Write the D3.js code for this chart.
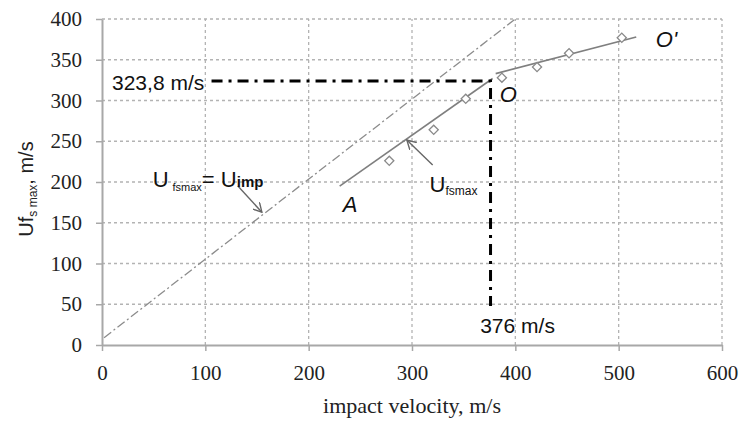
<!DOCTYPE html>
<html><head><meta charset="utf-8">
<script src="https://cdn.jsdelivr.net/npm/d3@7/dist/d3.min.js"></script>
<style>
html,body{margin:0;padding:0;background:#fff;}
svg{display:block;}
</style></head>
<body>
<svg id="chart" width="740" height="421"></svg>
<script>
// ---- data ----
const xTicks = [0, 100, 200, 300, 400, 500, 600];
const yTicks = [0, 50, 100, 150, 200, 250, 300, 350, 400];
const pointsX = [278, 321, 352, 387, 421, 452, 503];
const pointsY = [226, 264, 302, 328, 341, 358, 377];
const fitAX = [230, 378];
const fitAY = [195, 327];
const fitOX = [381, 517];
const fitOY = [333, 378];
const equalityX = [2, 400];
const equalityY = [9, 400];
const critX = 376;
const critY = 323.8;
const critHStart = 106;
const critVEnd = 48;
const xTitle = "impact velocity, m/s";

// ---- layout ----
const W = 740, H = 421;
const m = {left: 102, top: 19, right: 18, bottom: 76};
const svg = d3.select("#chart");
const x = d3.scaleLinear().domain([0, 600]).range([m.left, W - m.right]);
const y = d3.scaleLinear().domain([0, 400]).range([H - m.bottom, m.top]);

// gridlines
const grid = svg.append("g");
grid.selectAll(".gx").data(xTicks.slice(1)).join("line")
  .attr("x1", d => x(d)).attr("x2", d => x(d))
  .attr("y1", y(0)).attr("y2", y(400))
  .attr("stroke", "#b3b3b3").attr("stroke-width", 1.3).attr("stroke-dasharray", "3,3");
grid.selectAll(".gy").data(yTicks.slice(1)).join("line")
  .attr("x1", x(0)).attr("x2", x(600))
  .attr("y1", d => y(d)).attr("y2", d => y(d))
  .attr("stroke", "#b3b3b3").attr("stroke-width", 1.3).attr("stroke-dasharray", "3,3");

// axes
const xAxis = d3.axisBottom(x).tickValues(xTicks).tickSize(6).tickPadding(14).tickSizeOuter(0);
const yAxis = d3.axisLeft(y).tickValues(yTicks).tickSize(6).tickPadding(14).tickSizeOuter(0);
const gx = svg.append("g").attr("transform", `translate(0,${y(0)})`).call(xAxis);
const gy = svg.append("g").attr("transform", `translate(${x(0)},0)`).call(yAxis);
[gx, gy].forEach(g => {
  g.select(".domain").attr("stroke", "#a8a8a8").attr("stroke-width", 2);
  g.selectAll(".tick line").attr("stroke", "#a8a8a8").attr("stroke-width", 1.5);
  g.selectAll("text").attr("font-family", "'Liberation Serif', 'Times New Roman', serif")
    .attr("font-size", 21).attr("fill", "#222");
});

// axis titles
svg.append("text").attr("x", x(300)).attr("y", 413).attr("text-anchor", "middle")
  .attr("font-family", "'Liberation Serif', 'Times New Roman', serif").attr("font-size", 21)
  .attr("fill", "#222").attr("textLength", 178).attr("lengthAdjust", "spacingAndGlyphs")
  .text(xTitle);

const yt = svg.append("text").attr("transform", "translate(33,189) rotate(-90)")
  .attr("text-anchor", "middle").attr("font-family", "'Liberation Sans', Arial, sans-serif")
  .attr("fill", "#222").attr("font-size", 20);
yt.append("tspan").text("Uf");
yt.append("tspan").attr("font-size", 12).attr("dy", 4).text("s max");
yt.append("tspan").attr("dy", -4).text(", m/s");

const line = d3.line().x(d => x(d[0])).y(d => y(d[1]));

// equality line
svg.append("path").datum(d3.zip(equalityX, equalityY)).attr("d", line)
  .attr("fill", "none").attr("stroke", "#8c8c8c").attr("stroke-width", 1.3)
  .attr("stroke-dasharray", "9,3,2,3");

// fit lines
svg.append("path").datum(d3.zip(fitAX, fitAY)).attr("d", line)
  .attr("fill", "none").attr("stroke", "#7f7f7f").attr("stroke-width", 1.6);
svg.append("path").datum(d3.zip(fitOX, fitOY)).attr("d", line)
  .attr("fill", "none").attr("stroke", "#7f7f7f").attr("stroke-width", 1.6);

// critical dash-dot lines
svg.append("path").datum([[critHStart, critY], [critX, critY], [critX, critVEnd]]).attr("d", line)
  .attr("fill", "none").attr("stroke", "#000").attr("stroke-width", 3)
  .attr("stroke-dasharray", "11,6,3,6");

// points
const sym = d3.symbol().type(d3.symbolSquare).size(42);
svg.append("g").selectAll("path").data(d3.zip(pointsX, pointsY)).join("path")
  .attr("d", sym)
  .attr("transform", d => `translate(${x(d[0])},${y(d[1])}) rotate(45)`)
  .attr("fill", "#fff").attr("stroke", "#8a8a8a").attr("stroke-width", 1.3);

// arrows
const defs = svg.append("defs");
defs.append("marker").attr("id", "arr").attr("viewBox", "0 0 10 10")
  .attr("refX", 9).attr("refY", 5).attr("markerWidth", 10).attr("markerHeight", 10)
  .attr("markerUnits", "userSpaceOnUse").attr("orient", "auto")
  .append("path").attr("d", "M0,0 L9,5 L0,10").attr("fill", "none")
  .attr("stroke", "#666").attr("stroke-width", 1.4);
const arrows = [[[131.5, 195], [154.7, 163]], [[320, 221], [295, 251.5]]];
svg.selectAll(".arrow").data(arrows).join("path").attr("d", line)
  .attr("fill", "none").attr("stroke", "#666").attr("stroke-width", 1.4)
  .attr("marker-end", "url(#arr)");

// annotation texts
const sans = "'Liberation Sans', Arial, sans-serif";
function txt(xv, yv, str, opts = {}) {
  return svg.append("text").attr("x", x(xv)).attr("y", y(yv))
    .attr("font-family", sans).attr("font-size", opts.size || 21)
    .attr("font-style", opts.italic ? "italic" : "normal")
    .attr("fill", "#111").attr("text-anchor", opts.anchor || "start").text(str);
}
txt(9.7, 313, "323,8 m/s");
txt(366, 15, "376 m/s");
txt(233, 163, "A", {italic: true, size: 22});
txt(385, 298, "O", {italic: true, size: 22});
txt(536, 366, "O'", {italic: true, size: 22});

const t1 = svg.append("text").attr("x", x(49)).attr("y", y(194))
  .attr("font-family", sans).attr("font-size", 22).attr("fill", "#111");
t1.append("tspan").text("U");
t1.append("tspan").attr("font-size", 11).attr("dx", 4).attr("dy", 4).text("fsmax");
t1.append("tspan").attr("dy", -4).text("= U");
t1.append("tspan").attr("font-size", 15).attr("font-weight", "bold").text("imp");

const t2 = svg.append("text").attr("x", x(317)).attr("y", y(188))
  .attr("font-family", sans).attr("font-size", 22).attr("fill", "#111");
t2.append("tspan").text("U");
t2.append("tspan").attr("font-size", 12).attr("dy", 3).text("fsmax");
</script>
</body></html>
